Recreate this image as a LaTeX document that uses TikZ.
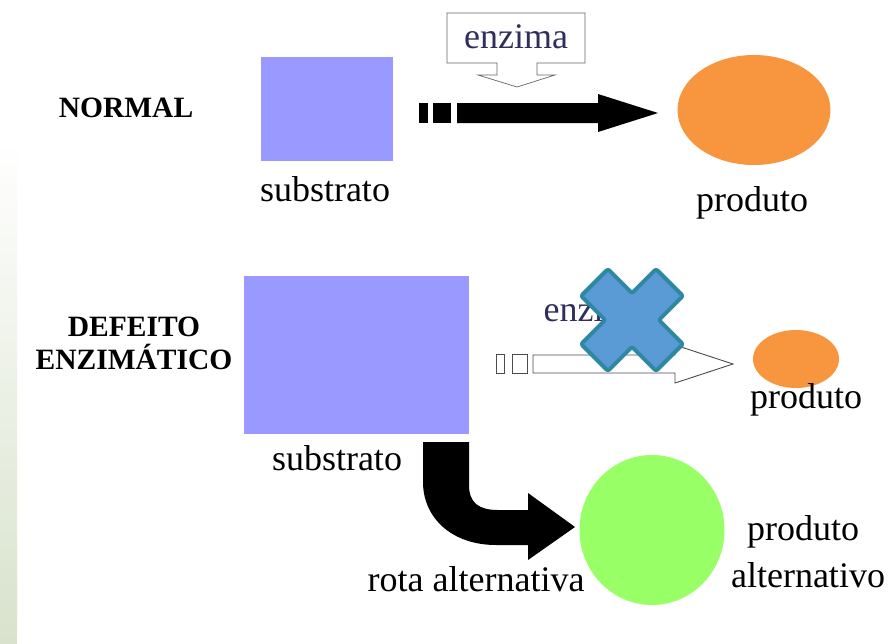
\documentclass[tikz,border=0pt]{standalone}
\usepackage{fontspec}
\setmainfont{Liberation Serif}
\usetikzlibrary{shapes.geometric}

\definecolor{subBlue}{HTML}{9999FF}
\definecolor{prodOrange}{HTML}{F7963F}
\definecolor{altGreen}{HTML}{99FF66}
\definecolor{crossFill}{HTML}{5B9BD5}
\definecolor{crossLine}{HTML}{2E88A4}
\definecolor{enzText}{HTML}{2F2F5C}
\definecolor{barGreen}{HTML}{D8E2CC}

\tikzset{
  sqbox/.style={fill=subBlue, inner sep=0pt},
  blob/.style={ellipse, inner sep=0pt},
  lbl/.style={anchor=base, font=\fontsize{36}{40}\selectfont},
  title/.style={anchor=base, align=center, font=\fontsize{29.5}{33}\selectfont\bfseries},
  outl/.style={draw=black!70, line width=0.9pt, fill=white},
  xmark/.style={fill=crossFill, draw=crossLine, line width=4pt, line join=round, rounded corners=2pt}
}

\begin{document}
\begin{tikzpicture}[x=1pt, y=-1pt]
  \useasboundingbox[fill=white] (0,0) rectangle (894,643);
  \shade[top color=white, bottom color=barGreen] (0,140) rectangle (17,643);

  % normal
  \node[title] (normal) at (126,117) {NORMAL};
  \node[sqbox, minimum width=132pt, minimum height=104pt] (sub1) at (327,109) {};
  \node[lbl] (subtxt1) at (325,201) {substrato};
  \node[blob, fill=prodOrange, minimum width=153pt, minimum height=110pt] (prod1) at (754,110) {};
  \node[lbl] (prodtxt1) at (752,211) {produto};

  \draw[outl, draw=black!60, line width=0.7pt] (447,13) -- (585,13) -- (585,63) -- (537,63) -- (537,75) -- (555,75)
     -- (517,87) -- (478,75) -- (497,75) -- (497,63) -- (447,63) -- cycle;
  \node[lbl, text=enzText] (enz1) at (516,48) {enzima};

  \fill (419,103) rectangle (428,123);
  \fill (433,103) rectangle (451,123);
  \fill (457,103) -- (598,103) -- (598,94) -- (658,113) -- (598,132) -- (598,123) -- (457,123) -- cycle;

  % defeito
  \node[title] (defeito) at (134,369) {DEFEITO\\ENZIMÁTICO};
  \node[sqbox, minimum width=225pt, minimum height=158pt] (sub2) at (356.5,355) {};
  \node[lbl] (subtxt2) at (337,470) {substrato};
  \node[blob, fill=prodOrange, minimum width=86pt, minimum height=58pt] (prod2) at (796,359) {};
  \node[lbl] (prodtxt2) at (806,408) {produto};

  \node[lbl, anchor=base west, text=enzText] (enz2) at (540,321) {enzima};
  \draw[outl] (496,354) rectangle (504,373);
  \draw[outl] (512,354) rectangle (527,373);
  \draw[outl] (533,355) -- (675,355) -- (675,345) -- (733,364) -- (675,383) -- (675,373) -- (533,373) -- cycle;

  \draw[xmark, shift={(632,320)}, rotate=45]
    (-19,-53) -- (19,-53) -- (19,-19) -- (53,-19) -- (53,19) -- (19,19) -- (19,53)
    -- (-19,53) -- (-19,19) -- (-53,19) -- (-53,-19) -- (-19,-19) -- cycle;

  % rota alternativa
  \fill (423,442) -- (469,442) -- (469,485) .. controls (469,503) and (479,510) .. (498,510) -- (528,510)
     -- (528,493) -- (575,527) -- (528,560) -- (528,545) -- (496,545)
     .. controls (452,545) and (423,518) .. (423,482) -- cycle;
  \node[blob, fill=altGreen, minimum width=145pt, minimum height=150pt] (alt) at (652,530) {};
  \node[lbl] (rota) at (476,591) {rota alternativa};
  \node[lbl] (alttxt1) at (803,540) {produto};
  \node[lbl] (alttxt2) at (808,587) {alternativo};
\end{tikzpicture}
\end{document}
